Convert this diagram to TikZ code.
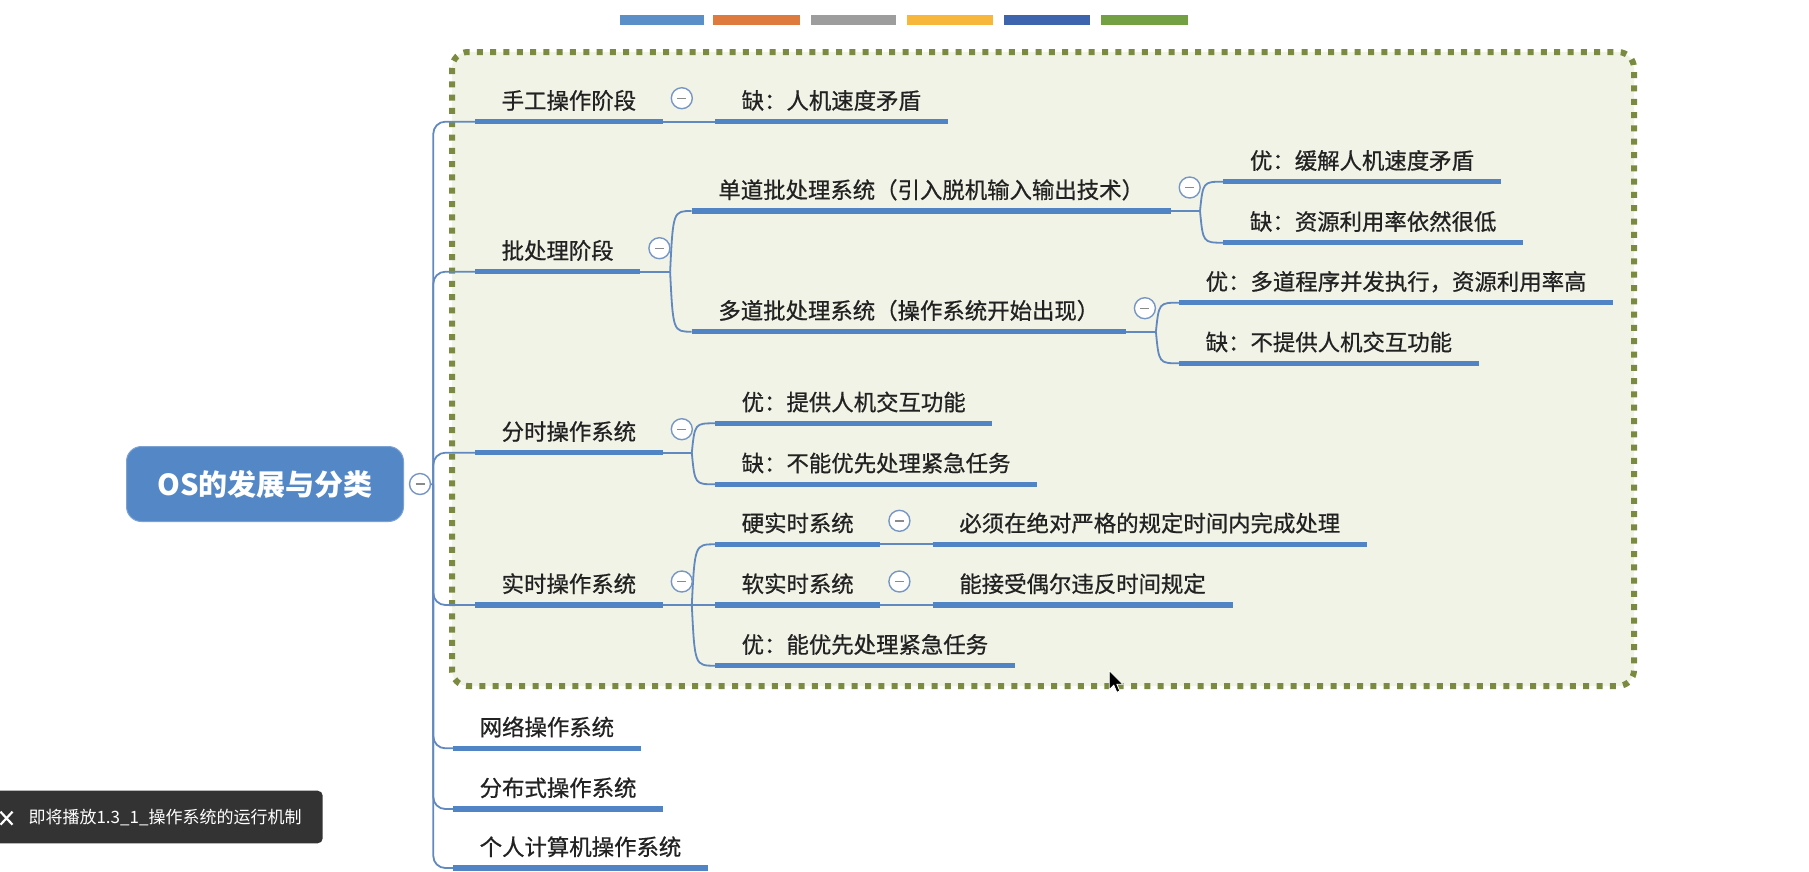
\documentclass[tikz,border=0pt]{standalone}
\usepackage{fontspec}
\setmainfont{Noto Sans CJK SC}
\newfontfamily\topicfont{Noto Sans CJK SC}[FakeBold=0.7]
\definecolor{txt}{HTML}{222222}
\definecolor{ulc}{HTML}{5084C4}
\definecolor{cnc}{HTML}{6289BF}
\definecolor{cc}{HTML}{7896C4}
\definecolor{mc}{HTML}{8A8A8A}
\definecolor{boxd}{HTML}{7A8A40}
\definecolor{boxf}{HTML}{F0F3E6}
\definecolor{rootc}{HTML}{5387C6}
\definecolor{rootb}{HTML}{7CA2D4}
\definecolor{toastc}{HTML}{333333}
\definecolor{sw1}{HTML}{5B8FC8}
\definecolor{sw2}{HTML}{DF7A3E}
\definecolor{sw3}{HTML}{9D9D9D}
\definecolor{sw4}{HTML}{F6B73C}
\definecolor{sw5}{HTML}{3F64AE}
\definecolor{sw6}{HTML}{72A043}
\begin{document}
\begin{tikzpicture}[x=1pt,y=-1pt,
  topic/.style={anchor=south west, inner xsep=26.5pt, inner ysep=0pt, text depth=12.5pt,
    font=\topicfont\fontsize{22.4}{26}\selectfont, text=txt},
  uline/.style={line width=5.5pt, draw=ulc},
  conn/.style={line width=1.8pt, draw=cnc},
  fold/.style={circle, draw=cc, line width=1.4pt, fill=white, minimum size=21pt, inner sep=0pt,
    path picture={\draw[draw=mc, line width=1.4pt] (path picture bounding box.center) ++(-4.5pt,0) -- ++(9pt,0);}},
  rootbox/.style={rounded corners=15pt, fill=rootc, draw=rootb, line width=1pt,
    minimum width=277pt, minimum height=75pt, text=white,
    font=\fontsize{29}{32}\selectfont\bfseries},
]
\useasboundingbox (0,0) rectangle (1809,871);
\fill[white] (0,0) rectangle (1809,871);

% colour swatches
\fill[sw1] (619.5,15) rectangle (703.8,25.4);
\fill[sw2] (713,15) rectangle (799.5,25.4);
\fill[sw3] (811,15) rectangle (896.4,25.4);
\fill[sw4] (906.8,15) rectangle (993.3,25.4);
\fill[sw5] (1003.7,15) rectangle (1090.2,25.4);
\fill[sw6] (1100.6,15) rectangle (1188.3,25.4);

% boundary
\draw[line width=6pt, draw=boxd, fill=boxf, dash pattern=on 6pt off 7.3pt, rounded corners=16pt]
  (452,52) rectangle (1634,686);

% root
\node[rootbox] (root) at (265,484) {OS的发展与分类};
\coordinate (J) at (433.3,484.3);

% level 1
\node[topic] (t1) at (475,121.7) {手工操作阶段};
\node[topic] (t2) at (475,271.7) {批处理阶段};
\node[topic] (t3) at (475,452.7) {分时操作系统};
\node[topic] (t4) at (475,605) {实时操作系统};
\node[topic] (t5) at (453,748.3) {网络操作系统};
\node[topic] (t6) at (453,809) {分布式操作系统};
\node[topic] (t7) at (453,868) {个人计算机操作系统};

% level 2
\node[topic] (a1) at (715,121.7) {缺：人机速度矛盾};
\node[topic] (b1) at (691.7,211) {单道批处理系统（引入脱机输入输出技术）};
\node[topic] (b2) at (691.7,331.7) {多道批处理系统（操作系统开始出现）};
\node[topic] (c1) at (715,423.3) {优：提供人机交互功能};
\node[topic] (c2) at (715,484.3) {缺：不能优先处理紧急任务};
\node[topic] (d1) at (715,544.3) {硬实时系统};
\node[topic] (d2) at (715,605) {软实时系统};
\node[topic] (d3) at (715,665.7) {优：能优先处理紧急任务};

% level 3
\node[topic] (b1a) at (1223.3,181.7) {优：缓解人机速度矛盾};
\node[topic] (b1b) at (1223.3,242.7) {缺：资源利用率依然很低};
\node[topic] (b2a) at (1179,302.7) {优：多道程序并发执行，资源利用率高};
\node[topic] (b2b) at (1179,363.3) {缺：不提供人机交互功能};
\node[topic] (d1a) at (932.7,544.3) {必须在绝对严格的规定时间内完成处理};
\node[topic] (d2a) at (932.7,605) {能接受偶尔违反时间规定};

% fork points
\coordinate (fb) at ([xshift=29.7pt]t2.south east);
\coordinate (fc) at ([xshift=29pt]t3.south east);
\coordinate (fd) at ([xshift=29pt]t4.south east);
\coordinate (fb1) at ([xshift=29.3pt]b1.south east);
\coordinate (fb2) at ([xshift=30pt]b2.south east);

% connectors
\draw[conn] (root.east) ++(12pt,0) -- (J);
\foreach \n in {t1,t2,t3,t4,t5,t6,t7}
  \draw[conn, rounded corners=12pt] (J) |- (\n.south west);
\draw[conn] (t1.south east) -- (a1.south west);
\draw[conn] (t2.south east) -- (fb);
\draw[conn] (fb) .. controls ([xshift=3pt]fb |- b1.south west) .. (b1.south west);
\draw[conn] (fb) .. controls ([xshift=3pt]fb |- b2.south west) .. (b2.south west);
\draw[conn] (b1.south east) -- (fb1);
\draw[conn] (fb1) .. controls ([xshift=3pt]fb1 |- b1a.south west) .. (b1a.south west);
\draw[conn] (fb1) .. controls ([xshift=3pt]fb1 |- b1b.south west) .. (b1b.south west);
\draw[conn] (b2.south east) -- (fb2);
\draw[conn] (fb2) .. controls ([xshift=3pt]fb2 |- b2a.south west) .. (b2a.south west);
\draw[conn] (fb2) .. controls ([xshift=3pt]fb2 |- b2b.south west) .. (b2b.south west);
\draw[conn] (t3.south east) -- (fc);
\draw[conn] (fc) .. controls ([xshift=3pt]fc |- c1.south west) .. (c1.south west);
\draw[conn] (fc) .. controls ([xshift=3pt]fc |- c2.south west) .. (c2.south west);
\draw[conn] (t4.south east) -- (d2.south west);
\draw[conn] (fd) .. controls ([xshift=3pt]fd |- d1.south west) .. (d1.south west);
\draw[conn] (fd) .. controls ([xshift=3pt]fd |- d3.south west) .. (d3.south west);
\draw[conn] (d1.south east) -- (d1a.south west);
\draw[conn] (d2.south east) -- (d2a.south west);

% underlines
\foreach \n in {t1,t2,t3,t4,t5,t6,t7,a1,b1,b2,c1,c2,d1,d2,d3,b1a,b1b,b2a,b2b,d1a,d2a}
  \draw[uline] (\n.south west) -- (\n.south east);

% fold markers
\node[fold] (rf) at ([xshift=16pt]root.east) {};
\node[fold] (f1) at ([shift={(19,-23.5)}]t1.south east) {};
\node[fold] (f2) at ([shift={(19,-23.5)}]t2.south east) {};
\node[fold] (f3) at ([shift={(19,-23.5)}]t3.south east) {};
\node[fold] (f4) at ([shift={(19,-23.5)}]t4.south east) {};
\node[fold] (f5) at ([shift={(19,-23.5)}]b1.south east) {};
\node[fold] (f6) at ([shift={(19,-23.5)}]b2.south east) {};
\node[fold] (f7) at ([shift={(19,-23.5)}]d1.south east) {};
\node[fold] (f8) at ([shift={(19,-23.5)}]d2.south east) {};

% toast
\fill[toastc, rounded corners=5pt] (-10,790.7) rectangle (322.7,843.3);
\draw[white, line width=2.2pt] (0.5,811.7) -- (12.5,824.7) (0.5,824.7) -- (12.5,811.7);
\node[anchor=west, inner sep=0pt, text=white, font=\fontsize{17}{20}\selectfont] (toast) at (28.3,818) {即将播放1.3\_1\_操作系统的运行机制};

% mouse pointer
\filldraw[fill=black, draw=white, line width=0.8pt]
  (1109.3,670.7) -- ++(0,19) -- ++(4.5,-4.5) -- ++(3,7) -- ++(3,-1.2) -- ++(-2.9,-6.8) -- ++(5.9,0) -- cycle;
\end{tikzpicture}
\end{document}
